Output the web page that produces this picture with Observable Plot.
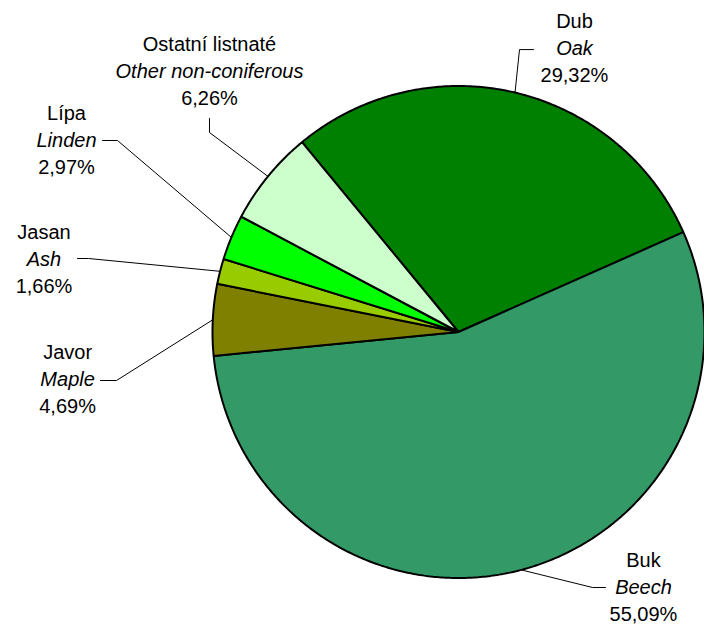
<!DOCTYPE html>
<html><head><meta charset="utf-8">
<script src="https://cdn.jsdelivr.net/npm/d3@7"></script>
<script src="https://cdn.jsdelivr.net/npm/@observablehq/plot@0.6"></script>
<style>body{margin:0;background:#fff} #chart{width:704px;height:626px}</style>
</head><body><div id="chart"></div><script>
// ---- data ----
const namesCz = ["Dub", "Buk", "Javor", "Jasan", "Lípa", "Ostatní listnaté"];
const namesEn = ["Oak", "Beech", "Maple", "Ash", "Linden", "Other non-coniferous"];
const shares = [29.32, 55.09, 4.69, 1.66, 2.97, 6.26];
const colors = ["#008000", "#339966", "#808000", "#99CC00", "#00FF00", "#CCFFCC"];

// ---- layout (in pie-radius units, relative to the pie centre) ----
const labelPos = [[0.4715, 1.152], [0.752, -1.037], [-1.589, -0.1915], [-1.685, 0.2963], [-1.5935, 0.780], [-1.0122, 1.059]];
const leaderElbow = [[0.248, 1.148], [0.5447, -1.0386], [-1.3902, -0.1972], [-1.504, 0.2988], [-1.3862, 0.7785], [-1.0122, 0.811]];
const leaderEnd = [[0.3049, 1.148], [0.5976, -1.0386], [-1.4553, -0.1972], [-1.5488, 0.2988], [-1.4472, 0.7785], [-1.0122, 0.8679]];
const startDeg = -39.5;

const fmt = v => d3.format(".2f")(v).replace(".", ",") + "%";
const s0 = startDeg * Math.PI / 180;
const arcs = d3.pie().sort(null).value(d => d).startAngle(s0).endAngle(s0 + 2 * Math.PI)(shares);

const slicePts = [];
arcs.forEach((a, i) => {
  slicePts.push({name: namesCz[i], x: 0, y: 0});
  const n = Math.max(4, Math.ceil((a.endAngle - a.startAngle) / (Math.PI / 360)));
  for (let k = 0; k <= n; k++) {
    const t = a.startAngle + (a.endAngle - a.startAngle) * k / n;
    slicePts.push({name: namesCz[i], x: Math.sin(t), y: Math.cos(t)});
  }
});

const leaderPts = [];
arcs.forEach((a, i) => {
  const m = (a.startAngle + a.endAngle) / 2;
  leaderPts.push({name: namesCz[i], x: Math.sin(m), y: Math.cos(m)});
  leaderPts.push({name: namesCz[i], x: leaderElbow[i][0], y: leaderElbow[i][1]});
  leaderPts.push({name: namesCz[i], x: leaderEnd[i][0], y: leaderEnd[i][1]});
});

const labels = namesCz.map((n, i) => ({cz: n, en: namesEn[i], pct: fmt(shares[i]), x: labelPos[i][0], y: labelPos[i][1]}));
const textOpts = {x: "x", y: "y", fontSize: 20, fill: "#000", textAnchor: "middle", lineAnchor: "middle"};

const chart = Plot.plot({
  width: 704, height: 626, margin: 0,
  x: {domain: [-1, 1], range: [212, 704], axis: null},
  y: {domain: [-1, 1], range: [577.5, 85.5], axis: null},
  color: {domain: namesCz, range: colors},
  style: {fontFamily: "'Liberation Sans', Arial, sans-serif", background: "white", overflow: "visible"},
  marks: [
    Plot.line(leaderPts, {x: "x", y: "y", z: "name", stroke: "#000", strokeWidth: 1}),
    Plot.line(slicePts, {x: "x", y: "y", z: "name", fill: "name", stroke: "#000", strokeWidth: 2, curve: "linear-closed", strokeLinejoin: "miter"}),
    Plot.text(labels, {...textOpts, text: "cz", dy: -27}),
    Plot.text(labels, {...textOpts, text: "en", fontStyle: "italic"}),
    Plot.text(labels, {...textOpts, text: "pct", dy: 27})
  ]
});
document.getElementById("chart").appendChild(chart);
</script></body></html>
